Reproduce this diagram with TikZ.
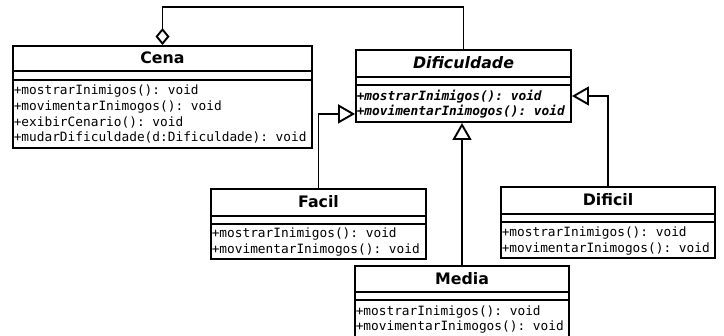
\documentclass[tikz,border=0pt]{standalone}
\usepackage{fontspec}
\setsansfont{DejaVu Sans}
\setmonofont{DejaVu Sans Mono}
\usetikzlibrary{arrows.meta}
\tikzset{
  cls/.style={draw, rectangle, line width=1.9pt, inner sep=0pt, fill=white},
  ttl/.style={inner sep=0pt, font=\sffamily\bfseries\fontsize{15.8}{18}\selectfont},
  mth/.style={inner sep=0pt, anchor=base west, font=\ttfamily\fontsize{12.8}{15}\selectfont},
  sepline/.style={line width=1.9pt},
  gen/.style={line width=1.9pt, -{Triangle[open, length=17pt, width=19pt]}},
  agg/.style={line width=1.9pt, -{Diamond[open, length=17pt, width=14pt]}}
}
\begin{document}
\begin{tikzpicture}[x=1pt, y=-1pt]
\useasboundingbox (0,0) rectangle (724,336);
\clip (0,0) rectangle (724,336);
\fill[white] (0,0) rectangle (724,336);

% Cena
\node[cls, minimum width=299pt, minimum height=102pt] (cena) at (162.5,97) {};
\node[ttl] (cenat) at ([yshift=-13pt]cena.north) {Cena};
\draw[sepline] ([yshift=-26pt]cena.north west) -- ([yshift=-26pt]cena.north east);
\draw[sepline] ([yshift=-35pt]cena.north west) -- ([yshift=-35pt]cena.north east);
\node[mth] (cm1) at ([xshift=1.5pt,yshift=-49.5pt]cena.north west) {+mostrarInimigos(): void};
\node[mth] (cm2) at ([xshift=1.5pt,yshift=-65.5pt]cena.north west) {+movimentarInimogos(): void};
\node[mth] (cm3) at ([xshift=1.5pt,yshift=-81pt]cena.north west) {+exibirCenario(): void};
\node[mth] (cm4) at ([xshift=1.5pt,yshift=-96.5pt]cena.north west) {+mudarDificuldade(d:Dificuldade): void};

% Dificuldade
\node[cls, minimum width=215pt, minimum height=72pt] (dif) at (463.5,86) {};
\node[ttl, font=\sffamily\bfseries\itshape\fontsize{15.8}{18}\selectfont] (dift) at ([yshift=-14pt]dif.north) {Dificuldade};
\draw[sepline] ([yshift=-28pt]dif.north west) -- ([yshift=-28pt]dif.north east);
\draw[sepline] ([yshift=-36pt]dif.north west) -- ([yshift=-36pt]dif.north east);
\node[mth, font=\ttfamily\bfseries\itshape\fontsize{12.8}{15}\selectfont] (dm1) at ([xshift=1.5pt,yshift=-51pt]dif.north west) {+mostrarInimigos(): void};
\node[mth, font=\ttfamily\bfseries\itshape\fontsize{12.8}{15}\selectfont] (dm2) at ([xshift=1.5pt,yshift=-66pt]dif.north west) {+movimentarInimogos(): void};

% Facil
\node[cls, minimum width=215pt, minimum height=70pt] (facil) at (318.5,224) {};
\node[ttl] (facilt) at ([yshift=-14pt]facil.north) {Facil};
\draw[sepline] ([yshift=-28pt]facil.north west) -- ([yshift=-28pt]facil.north east);
\draw[sepline] ([yshift=-36pt]facil.north west) -- ([yshift=-36pt]facil.north east);
\node[mth] (fm1) at ([xshift=1.5pt,yshift=-49.5pt]facil.north west) {+mostrarInimigos(): void};
\node[mth] (fm2) at ([xshift=1.5pt,yshift=-65pt]facil.north west) {+movimentarInimogos(): void};

% Dificil
\node[cls, minimum width=214pt, minimum height=71pt] (dificil) at (608,222.5) {};
\node[ttl] (dificilt) at ([yshift=-14pt]dificil.north) {Dificil};
\draw[sepline] ([yshift=-28pt]dificil.north west) -- ([yshift=-28pt]dificil.north east);
\draw[sepline] ([yshift=-36pt]dificil.north west) -- ([yshift=-36pt]dificil.north east);
\node[mth] (xm1) at ([xshift=1.5pt,yshift=-50pt]dificil.north west) {+mostrarInimigos(): void};
\node[mth] (xm2) at ([xshift=1.5pt,yshift=-66pt]dificil.north west) {+movimentarInimogos(): void};

% Media
\node[cls, minimum width=214pt, minimum height=80pt] (media) at (462,306) {};
\node[ttl] (mediat) at ([yshift=-13.5pt]media.north) {Media};
\draw[sepline] ([yshift=-27pt]media.north west) -- ([yshift=-27pt]media.north east);
\draw[sepline] ([yshift=-35pt]media.north west) -- ([yshift=-35pt]media.north east);
\node[mth] (mm1) at ([xshift=1.5pt,yshift=-50pt]media.north west) {+mostrarInimigos(): void};
\node[mth] (mm2) at ([xshift=1.5pt,yshift=-65pt]media.north west) {+movimentarInimogos(): void};

% Connectors
\coordinate (aggtop) at (162.5,7);
\draw[agg] (dif.north) |- (aggtop) -- (cena.north);
\draw[gen] (facil.north) |- ([yshift=9pt]dif.south west);
\draw[gen] (dificil.north) |- ([yshift=-10pt]dif.east);
\draw[gen] (media.north) -- (media.north |- dif.south);
\end{tikzpicture}
\end{document}
